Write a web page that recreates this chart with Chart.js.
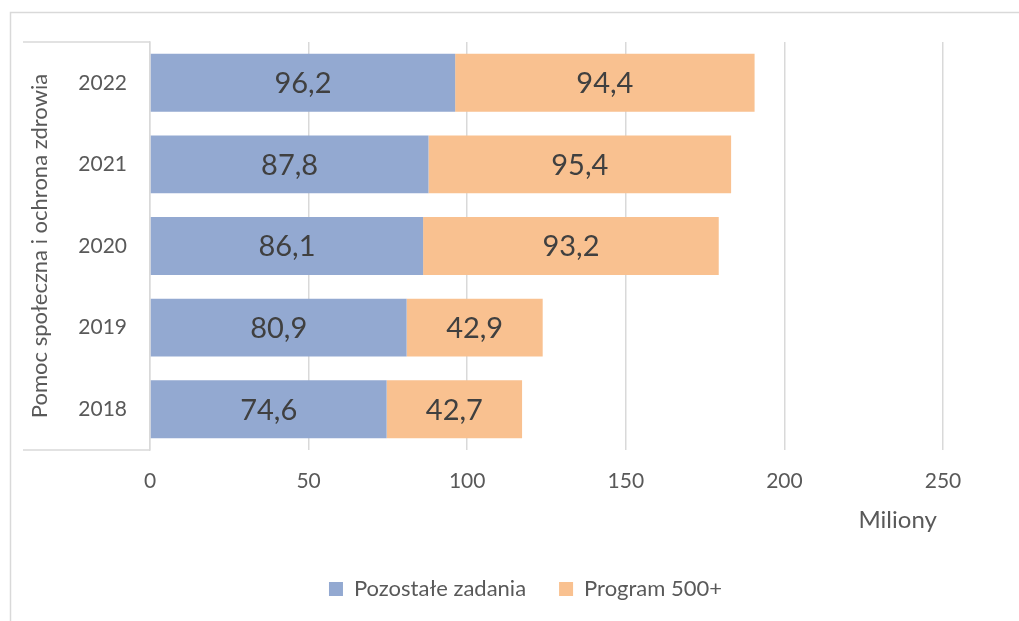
<!DOCTYPE html>
<html><head><meta charset="utf-8">
<script src="https://cdn.jsdelivr.net/npm/chart.js@4.4.0/dist/chart.umd.min.js"></script>
<style>html,body{margin:0;padding:0;background:#fff;overflow:hidden}#wrap{width:1019px;height:621px;position:relative}</style>
</head><body><div id="wrap"><canvas id="c"></canvas></div>
<script>
const years = ['2018', '2019', '2020', '2021', '2022'];
const pozostale = [74.6, 80.9, 86.1, 87.8, 96.2];
const program500 = [42.7, 42.9, 93.2, 95.4, 94.4];
const seriesNames = ['Pozostałe zadania', 'Program 500+'];
const seriesColors = ['#93A9D1', '#F9C190'];
const xTickValues = [0, 50, 100, 150, 200, 250];
const yTitle = 'Pomoc społeczna i ochrona zdrowia';
const xTitle = 'Miliony';

const FONT = 'Lato, "Open Sans", sans-serif';
const GRID = '#D9D9D9';
const TXT = '#595959';

const framePlugin = {
  id: 'frame',
  beforeDraw(chart) {
    const ctx = chart.ctx;
    ctx.save();
    ctx.fillStyle = '#fff';
    ctx.fillRect(0, 0, chart.width, chart.height);
    ctx.strokeStyle = GRID;
    ctx.lineWidth = 1.5;
    ctx.strokeRect(10.5, 12.5, chart.width + 50, chart.height + 50);
    const a = chart.chartArea;
    ctx.beginPath();
    ctx.moveTo(23, a.top); ctx.lineTo(a.left, a.top);
    ctx.moveTo(23, a.bottom); ctx.lineTo(a.left, a.bottom);
    ctx.stroke();
    ctx.restore();
  }
};

const labelPlugin = {
  id: 'valueLabels',
  afterDatasetsDraw(chart) {
    const ctx = chart.ctx;
    ctx.save();
    ctx.font = '29px ' + FONT;
    ctx.fillStyle = '#404040';
    ctx.textAlign = 'center';
    ctx.textBaseline = 'middle';
    chart.data.datasets.forEach((ds, di) => {
      const meta = chart.getDatasetMeta(di);
      meta.data.forEach((el, i) => {
        const p = el.getCenterPoint();
        ctx.fillText(ds.data[i].toFixed(1).replace('.', ','), p.x, p.y + 1);
      });
    });
    ctx.restore();
  }
};

const legendShift = {
  id: 'legendShift',
  afterLayout(chart) {
    const lg = chart.legend;
    if (!lg) return;
    const dx = 525.5 - (lg.left + lg.right) / 2;
    const dy = 545 - lg.top;
    lg.left += dx; lg.right += dx;
    lg.top += dy; lg.bottom += dy;
  }
};

new Chart(document.getElementById('c'), {
  type: 'bar',
  data: {
    labels: years,
    datasets: [
      { label: seriesNames[0], data: pozostale, backgroundColor: seriesColors[0] },
      { label: seriesNames[1], data: program500, backgroundColor: seriesColors[1] }
    ]
  },
  options: {
    indexAxis: 'y',
    responsive: true,
    maintainAspectRatio: false,
    animation: false,
    devicePixelRatio: 1,
    layout: { padding: { top: 42, right: 76, bottom: 0, left: 23 } },
    datasets: { bar: { categoryPercentage: 1, barPercentage: 0.71 } },
    scales: {
      x: {
        stacked: true,
        min: 0, max: 250,
        afterBuildTicks(scale) { scale.ticks = xTickValues.map(v => ({ value: v })); },
        afterFit(scale) { scale.height = 106; },
        grid: { color: GRID, lineWidth: 1.5, drawTicks: false },
        border: { display: false },
        ticks: { color: TXT, font: { family: FONT, size: 21 }, padding: 18.4, maxRotation: 0 },
        title: { display: true, text: xTitle + ' ', align: 'end', color: TXT, font: { family: FONT, size: 24 }, padding: { top: 0, bottom: 21.6 } }
      },
      y: {
        stacked: true,
        reverse: true,
        afterFit(scale) { scale.width = 127; },
        grid: { display: false, drawTicks: false },
        border: { display: true, color: GRID, width: 1.5 },
        ticks: { color: TXT, font: { family: FONT, size: 21 }, padding: 23 },
        title: { display: true, text: yTitle, color: TXT, font: { family: FONT, size: 22 }, padding: { top: 3.8, bottom: 0 } }
      }
    },
    plugins: {
      legend: {
        position: 'bottom',
        labels: { boxWidth: 14, boxHeight: 14, padding: 33, color: TXT, font: { family: FONT, size: 22 } }
      },
      tooltip: { enabled: false }
    }
  },
  plugins: [framePlugin, labelPlugin, legendShift]
});
</script>
</body></html>
